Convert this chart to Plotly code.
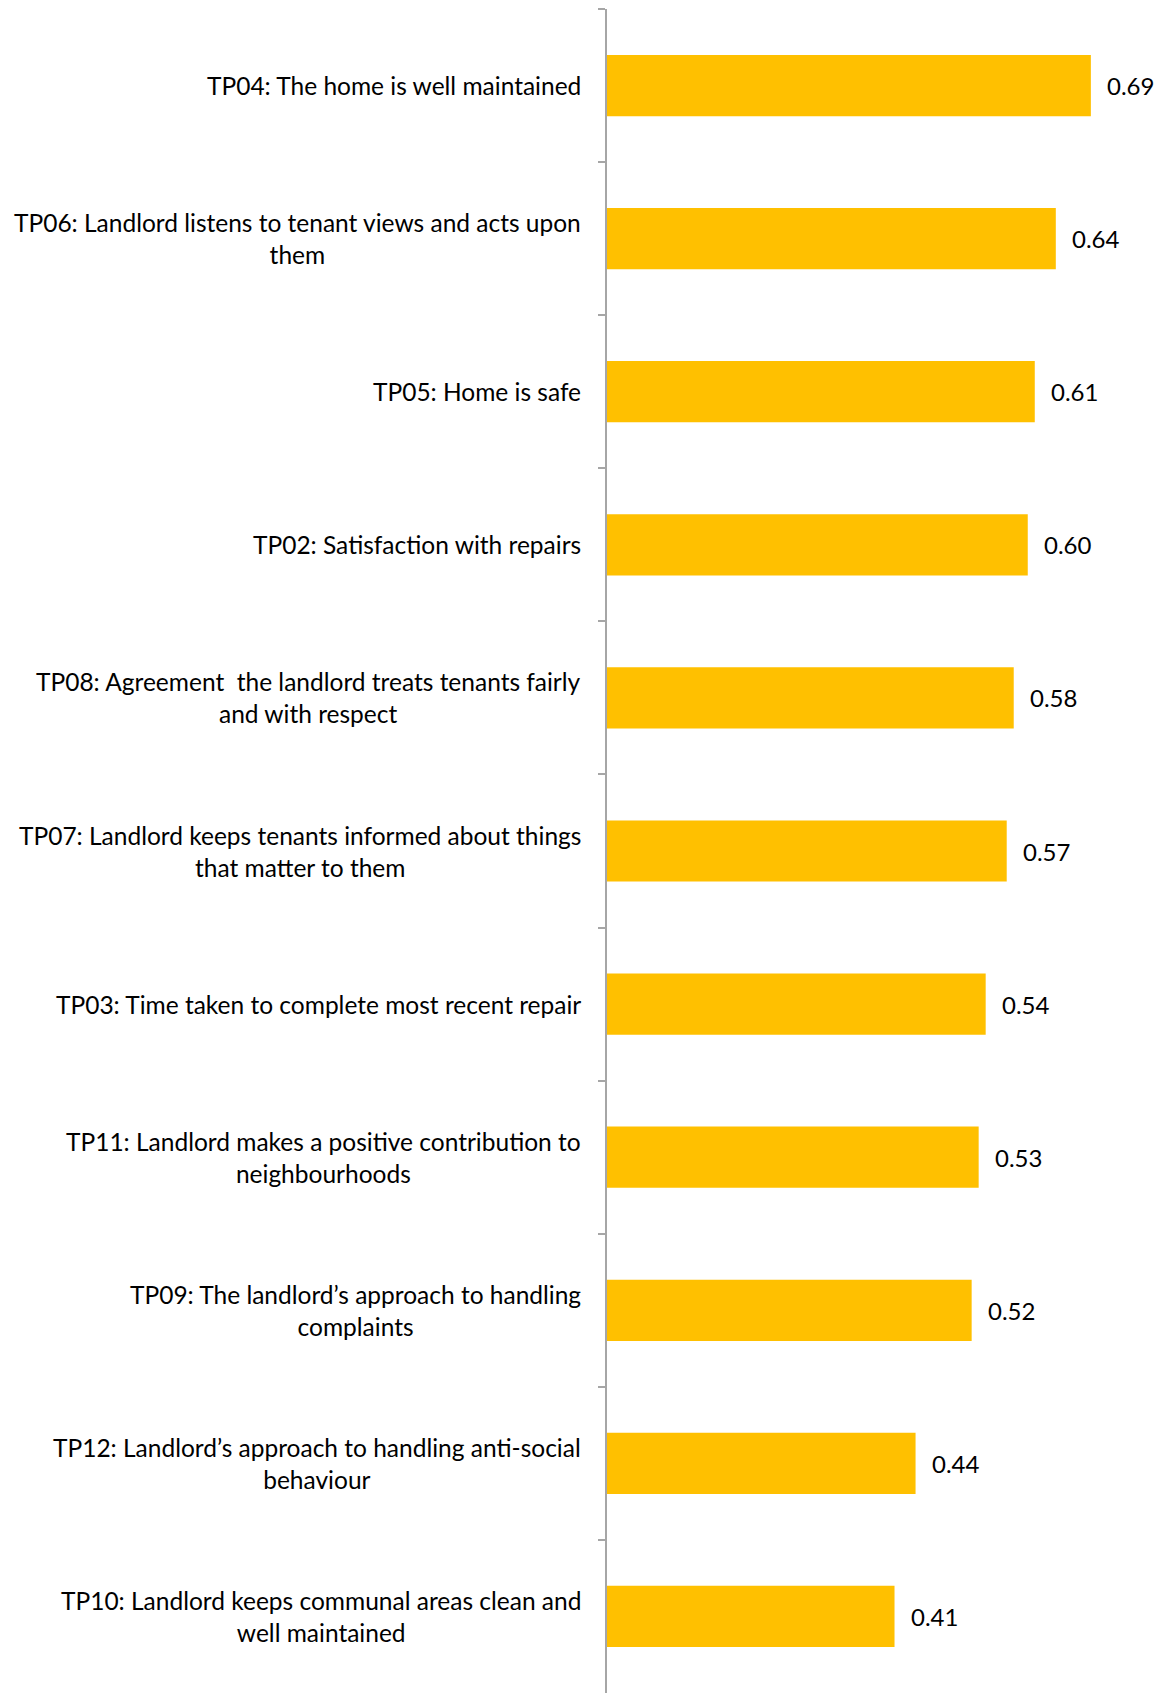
import plotly.graph_objects as go

# Tenant perception measures, ordered top to bottom
categories = [
    "TP04: The home is well maintained",
    "TP06: Landlord listens to tenant views and acts upon<br>them",
    "TP05: Home is safe",
    "TP02: Satisfaction with repairs",
    "TP08: Agreement  the landlord treats tenants fairly<br>and with respect",
    "TP07: Landlord keeps tenants informed about things<br>that matter to them",
    "TP03: Time taken to complete most recent repair",
    "TP11: Landlord makes a positive contribution to<br>neighbourhoods",
    "TP09: The landlord\u2019s approach to handling<br>complaints",
    "TP12: Landlord\u2019s approach to handling anti-social<br>behaviour",
    "TP10: Landlord keeps communal areas clean and<br>well maintained",
]
values = [0.69, 0.64, 0.61, 0.60, 0.58, 0.57, 0.54, 0.53, 0.52, 0.44, 0.41]

FONT = "Lato, 'Open Sans', sans-serif"
BAR_COLOR = "#FFC000"

fig = go.Figure(
    go.Bar(
        x=values,
        y=categories,
        orientation="h",
        marker=dict(color=BAR_COLOR, line=dict(width=0)),
        hoverinfo="skip",
    )
)

annotations = []
# Category labels, centred line by line, to the left of the axis
for cat in categories:
    annotations.append(dict(
        xref="paper", yref="y", x=0, y=cat,
        text=cat, showarrow=False,
        xanchor="right", yanchor="middle", align="center",
        xshift=-24,
        font=dict(family=FONT, size=24.5, color="#000000"),
    ))
# Value labels just past the end of each bar
for cat, v in zip(categories, values):
    annotations.append(dict(
        xref="x", yref="y", x=v, y=cat,
        text=f"{v:.2f}", showarrow=False,
        xanchor="left", yanchor="middle",
        xshift=14,
        font=dict(family=FONT, size=24, color="#000000"),
    ))

fig.update_layout(
    width=1161,
    height=1693,
    margin=dict(l=607, r=0, t=9, b=0),
    paper_bgcolor="white",
    plot_bgcolor="white",
    bargap=0.6,
    showlegend=False,
    annotations=annotations,
    xaxis=dict(
        range=[0, 0.79],
        showgrid=False, zeroline=False, showline=False,
        showticklabels=False, ticks="",
    ),
    yaxis=dict(
        autorange="reversed",
        showgrid=False, zeroline=False,
        showline=True, linecolor="#A6A6A6", linewidth=1.5,
        ticks="outside", ticklen=7, tickcolor="#A6A6A6", tickwidth=1.5,
        tickson="boundaries",
        showticklabels=False,
    ),
)

fig.write_html("out.html")
